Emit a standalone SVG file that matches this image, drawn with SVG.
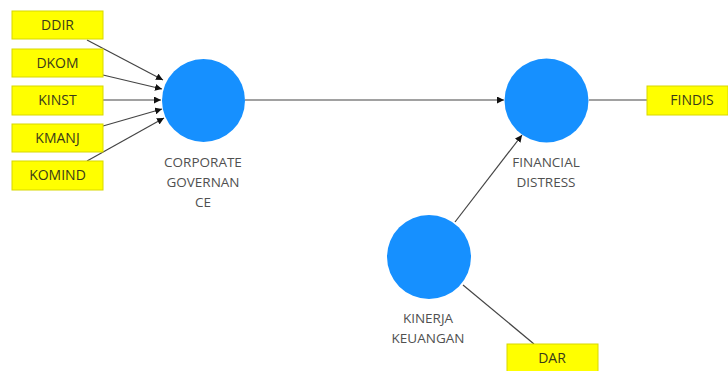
<svg xmlns="http://www.w3.org/2000/svg" width="728" height="371" viewBox="0 0 728 371">
<defs>
<style>
.box{fill:#ffff00;stroke:#d8d800;stroke-width:1}
.bt{font-family:"Open Sans","Noto Sans",sans-serif;font-size:14px;fill:#3a3a1a;text-anchor:middle}
.lv{fill:#1690ff}
.lt{font-family:"Open Sans","Noto Sans",sans-serif;font-size:13.5px;fill:#505050;text-anchor:middle}
.c{stroke:#444;stroke-width:1.2;fill:none}
</style>
<marker id="ah" viewBox="0 0 10 10" refX="10" refY="5" markerWidth="7" markerHeight="7" markerUnits="userSpaceOnUse" orient="auto">
<path d="M0,0 L10,5 L0,10 z" fill="#111"/>
</marker>
</defs>
<rect width="728" height="371" fill="#fff"/>
<g id="connectors">
<line class="c" x1="87" y1="40" x2="163" y2="80" marker-end="url(#ah)"/>
<line class="c" x1="103" y1="75" x2="162" y2="89" marker-end="url(#ah)"/>
<line class="c" x1="103" y1="100" x2="161" y2="100" marker-end="url(#ah)"/>
<line class="c" x1="103" y1="126" x2="162" y2="109" marker-end="url(#ah)"/>
<line class="c" x1="87" y1="161" x2="164" y2="118" marker-end="url(#ah)"/>
<line class="c" x1="245" y1="100" x2="504" y2="100" marker-end="url(#ah)"/>
<line class="c" x1="589" y1="100" x2="647" y2="100"/>
<line class="c" x1="455" y1="222" x2="522" y2="135" marker-end="url(#ah)"/>
<line class="c" x1="463" y1="285" x2="534" y2="344"/>
</g>
<g id="DDIR"><rect class="box" x="12" y="11" width="91" height="28"/><text class="bt" x="57.5" y="30">DDIR</text></g>
<g id="DKOM"><rect class="box" x="12" y="49" width="91" height="28"/><text class="bt" x="57.5" y="68">DKOM</text></g>
<g id="KINST"><rect class="box" x="12" y="86" width="91" height="29"/><text class="bt" x="57.5" y="105">KINST</text></g>
<g id="KMANJ"><rect class="box" x="12" y="124" width="91" height="28"/><text class="bt" x="57.5" y="143">KMANJ</text></g>
<g id="KOMIND"><rect class="box" x="12" y="161" width="91" height="29"/><text class="bt" x="57.5" y="180">KOMIND</text></g>
<g id="FINDIS"><rect class="box" x="647" y="86" width="81" height="29"/><text class="bt" x="692" y="105">FINDIS</text></g>
<g id="DAR"><rect class="box" x="507" y="344" width="91" height="29"/><text class="bt" x="552" y="363">DAR</text></g>
<g id="CG"><circle class="lv" cx="203.5" cy="100.5" r="41.5"/>
<text class="lt" x="203" y="167">CORPORATE</text><text class="lt" x="203" y="187">GOVERNAN</text><text class="lt" x="203" y="207">CE</text></g>
<g id="FD"><circle class="lv" cx="546.5" cy="100.5" r="42"/>
<text class="lt" x="546" y="167">FINANCIAL</text><text class="lt" x="546" y="187">DISTRESS</text></g>
<g id="KK"><circle class="lv" cx="429" cy="257" r="42"/>
<text class="lt" x="428" y="323">KINERJA</text><text class="lt" x="428" y="343">KEUANGAN</text></g>
</svg>
